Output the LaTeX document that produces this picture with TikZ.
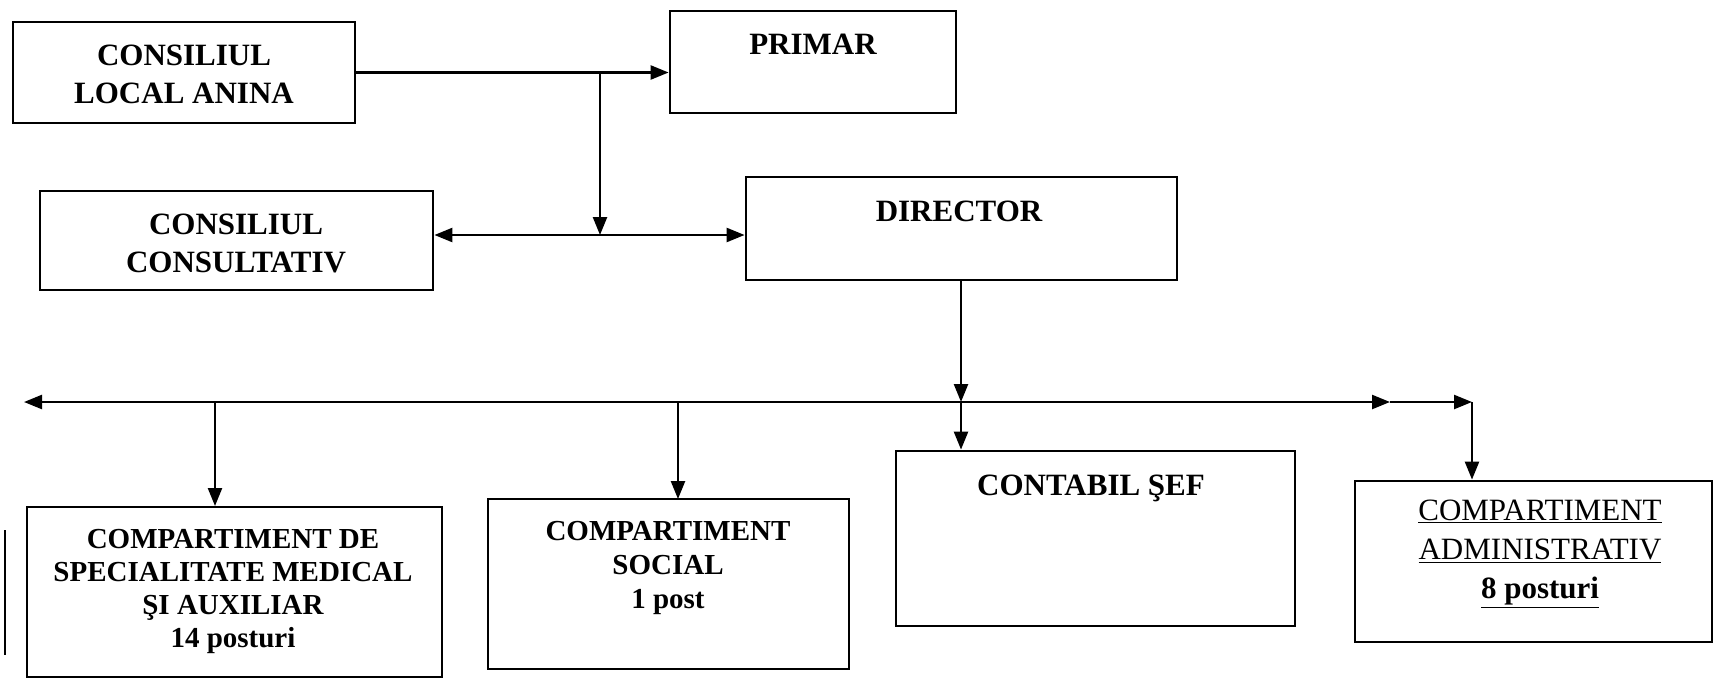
\documentclass[tikz,border=0pt]{standalone}
\usepackage{fontspec}
\setmainfont{Liberation Serif}
\usetikzlibrary{arrows.meta}
\begin{document}
\begin{tikzpicture}[x=1pt,y=-1pt,
  box/.style={draw, line width=2.8pt, rectangle, inner sep=0pt},
  conn/.style={line width=2.4pt},
  arr/.style={conn, -{Triangle[length=18pt,width=14pt]}},
  darr/.style={conn, {Triangle[length=18pt,width=14pt]}-{Triangle[length=18pt,width=14pt]}},
  big/.style={font=\fontsize{31}{38}\selectfont\bfseries, align=center},
  small/.style={font=\fontsize{29}{34}\selectfont\bfseries, align=center},
  adm/.style={font=\fontsize{31}{39}\selectfont, align=center}]
\useasboundingbox (0,0) rectangle (1713,678);
% boxes
\node[box, minimum width=342pt, minimum height=101pt] (cla) at (184,72.5) {};
\node[box, minimum width=286pt, minimum height=102pt] (primar) at (813,62) {};
\node[box, minimum width=393pt, minimum height=99pt] (cc) at (236.5,240.5) {};
\node[box, minimum width=431pt, minimum height=103pt] (dir) at (961.5,228.5) {};
\node[box, minimum width=415pt, minimum height=170pt] (med) at (234.5,592) {};
\node[box, minimum width=361pt, minimum height=170pt] (soc) at (668.5,584) {};
\node[box, minimum width=399pt, minimum height=175pt] (cont) at (1095.5,538.5) {};
\node[box, minimum width=357pt, minimum height=161pt] (adm) at (1533.5,561.5) {};
% texts
\node[big] (tcla) at (184,74) {CONSILIUL\\LOCAL ANINA};
\node[big] (tprimar) at (813,44) {PRIMAR};
\node[big] (tcc) at (236,243) {CONSILIUL\\CONSULTATIV};
\node[big] (tdir) at (959,211) {DIRECTOR};
\node[big] (tcont) at (1091,488) {CONTABIL ŞEF};
\node[small, font=\fontsize{29}{33}\selectfont\bfseries] (tmed) at (233,591) {COMPARTIMENT DE\\SPECIALITATE MEDICAL\\ŞI AUXILIAR\\14 posturi};
\node[small] (tsoc) at (668,568) {COMPARTIMENT\\SOCIAL\\1 post};
\node[adm] (tadm) at (1540,554) {\underline{COMPARTIMENT}\\\underline{ADMINISTRATIV}\\\textbf{\underline{8 posturi}}};
% connectors
\coordinate (j1) at (600,72);
\coordinate (hy) at (600,235);
\coordinate (bus) at (961,402);
\coordinate (bl) at (24,402);
\coordinate (bm) at (1390,402);
\coordinate (br) at (1472,402);
\draw[arr] (cla.east) -- (cla.east -| primar.west);
\draw[arr] (j1) -- (hy);
\draw[darr] (cc.east |- hy) -- (dir.west |- hy);
\draw[arr] (dir.south -| bus) -- (bus);
\draw[arr] (bus) -- (bus |- cont.north);
\draw[arr] (bus) -- (bl);
\draw[arr] (bus) -- (bm);
\draw[arr] (bm) -- (br);
\draw[arr] (br) -- (br |- adm.north);
\draw[arr] (215,402) -- (215,506);
\draw[arr] (678,402) -- (678,499);
% stray edge on the left
\draw[line width=1.4pt] (5,530) -- (5,655);
\end{tikzpicture}
\end{document}
